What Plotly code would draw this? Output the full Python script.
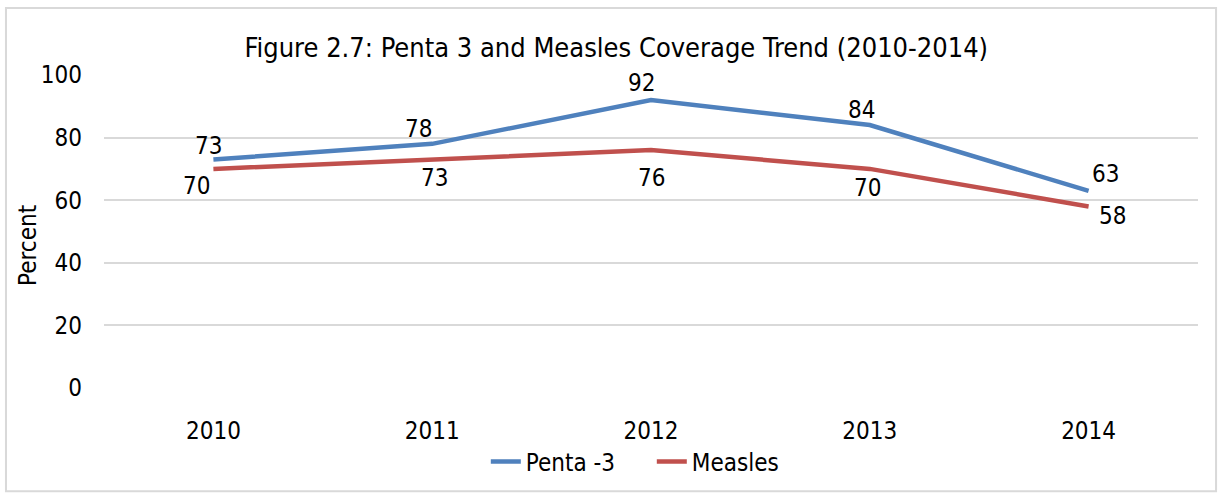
import plotly.graph_objects as go

years = ["2010", "2011", "2012", "2013", "2014"]
penta3 = [73, 78, 92, 84, 63]
measles = [70, 73, 76, 70, 58]
y_ticks = [0, 20, 40, 60, 80, 100]

FONT = "Liberation Sans Narrow, Arial Narrow, DejaVu Sans Condensed, sans-serif"
BLUE = "#4f81bd"
RED = "#c0504d"

fig = go.Figure()
fig.add_trace(go.Scatter(x=years, y=penta3, mode="lines", name="Penta -3",
                         line=dict(color=BLUE, width=4.5)))
fig.add_trace(go.Scatter(x=years, y=measles, mode="lines", name="Measles",
                         line=dict(color=RED, width=4.5)))

# data labels (category index positions)
p_shift = [(-5, 14), (-14, 15), (-10, 17), (-8, 15), (17, 17)]
m_shift = [(-17, -17), (2, -18), (0, -28), (-2, -19), (24, -10)]
for i, (v, (dx, dy)) in enumerate(zip(penta3, p_shift)):
    fig.add_annotation(x=i, y=v, text=str(v), showarrow=False, xshift=dx, yshift=dy,
                       font=dict(family=FONT, size=24, color="#000"))
for i, (v, (dx, dy)) in enumerate(zip(measles, m_shift)):
    fig.add_annotation(x=i, y=v, text=str(v), showarrow=False, xshift=dx, yshift=dy,
                       font=dict(family=FONT, size=24, color="#000"))

# y-axis title
fig.add_annotation(text="Percent", xref="paper", yref="paper", x=-0.0695, y=0.457,
                   xanchor="center", yanchor="middle", textangle=-90, showarrow=False,
                   font=dict(family=FONT, size=24, color="#000"))

fig.add_shape(type="rect", xref="paper", yref="paper",
              x0=-0.0896, x1=1.0165, y0=-0.33, y1=1.214,
              line=dict(color="#d9d9d9", width=2), fillcolor="rgba(0,0,0,0)", layer="below")

fig.update_layout(
    width=1218, height=496,
    margin=dict(l=104, r=20, t=75, b=108),
    paper_bgcolor="white", plot_bgcolor="white",
    font=dict(family=FONT, size=24, color="#000"),
    title=dict(text="Figure 2.7: Penta 3 and Measles Coverage Trend (2010-2014)",
               x=0.506, xanchor="center", y=0.905, yanchor="middle",
               font=dict(family=FONT, size=27, color="#000")),
    xaxis=dict(type="category", range=[-0.5, 4.5], showgrid=False, showline=False, ticks="",
               tickfont=dict(size=24), ticklabelstandoff=26),
    yaxis=dict(range=[0, 100], tickvals=y_ticks, showgrid=True, gridcolor="#d9d9d9",
               gridwidth=2, zeroline=False, showline=False, ticks="",
               tickfont=dict(size=24), ticklabelstandoff=21),
    legend=dict(orientation="h", x=0.349, xanchor="left", y=-0.236, yanchor="middle",
                font=dict(size=24), entrywidth=121, entrywidthmode="pixels",
                bgcolor="rgba(0,0,0,0)"),
    showlegend=True,
)

fig.write_html("out.html")
